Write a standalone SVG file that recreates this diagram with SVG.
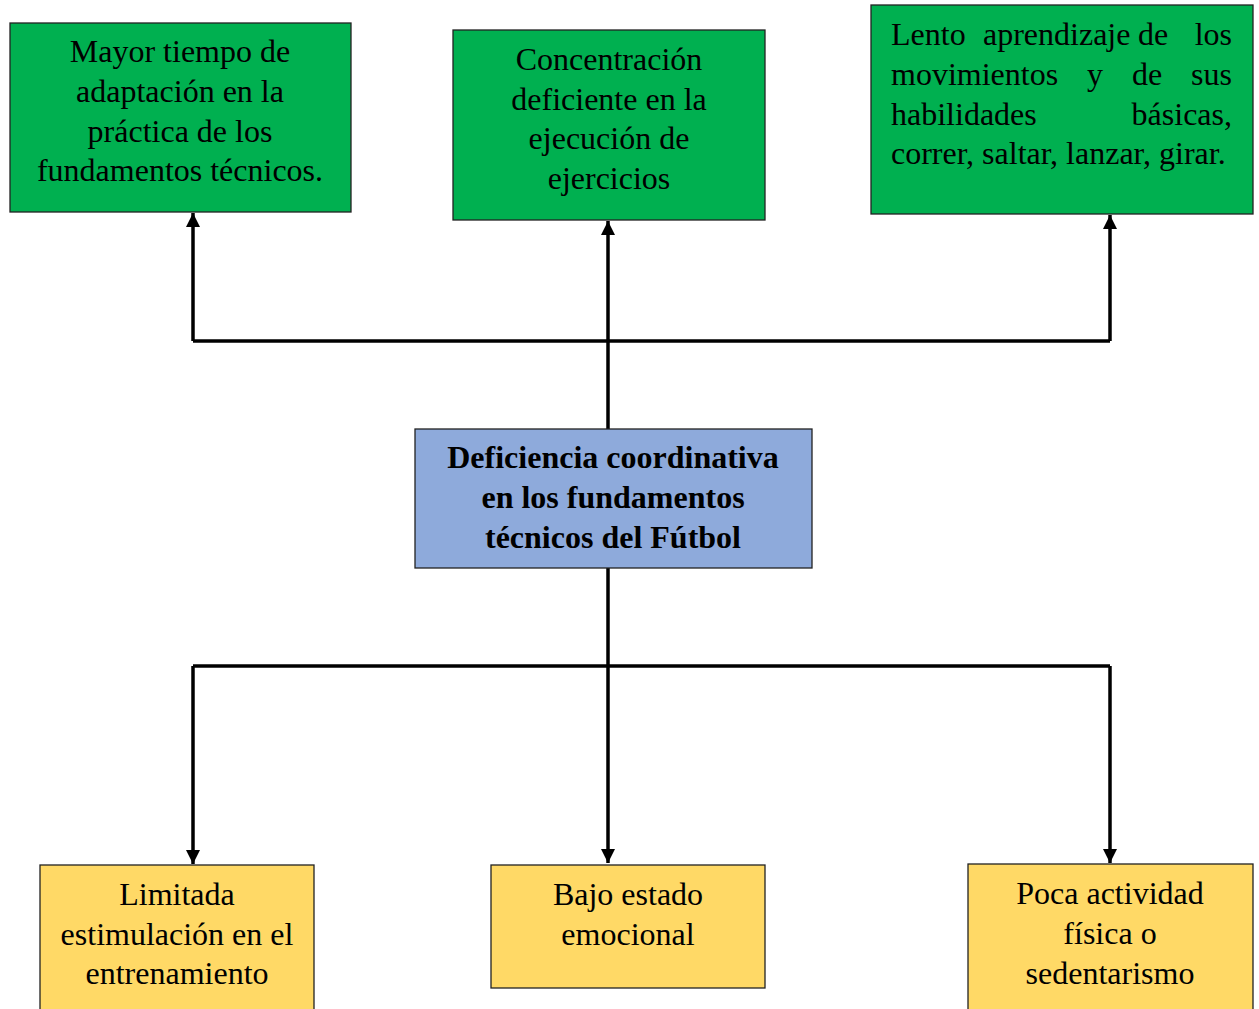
<svg xmlns="http://www.w3.org/2000/svg" width="1259" height="1009" viewBox="0 0 1259 1009">
<style>
.box{stroke:#222;stroke-width:1.3}
.g{fill:#00B050}.b{fill:#8EAADB}.y{fill:#FFD966}
text{font-family:"Liberation Serif","Times New Roman",serif;font-size:32px;fill:#000}
.c{text-anchor:middle}
.e{text-anchor:end}
.bold{font-weight:bold}
.ln{stroke:#000;stroke-width:3.5;fill:none}
</style>
<defs>
<marker id="ah" viewBox="0 0 10 10" refX="10" refY="5" markerWidth="4" markerHeight="4" orient="auto" markerUnits="strokeWidth">
<path d="M0,0 L10,5 L0,10 z" fill="#000"/>
</marker>
</defs>
<rect width="1259" height="1009" fill="#fff"/>
<g id="connectors">
<path class="ln" d="M193,341 H1110"/>
<path class="ln" d="M193,341 V213" marker-end="url(#ah)"/>
<path class="ln" d="M608,429 V221" marker-end="url(#ah)"/>
<path class="ln" d="M1110,341 V215" marker-end="url(#ah)"/>
<path class="ln" d="M608,568 V863" marker-end="url(#ah)"/>
<path class="ln" d="M193,666 H1110"/>
<path class="ln" d="M193,666 V864" marker-end="url(#ah)"/>
<path class="ln" d="M1110,666 V863" marker-end="url(#ah)"/>
</g>
<g id="n1">
<rect class="box g" x="10" y="23" width="341" height="189"/>
<text class="c" x="180" y="62">Mayor tiempo de</text>
<text class="c" x="180" y="102">adaptación en la</text>
<text class="c" x="180" y="142">práctica de los</text>
<text class="c" x="180" y="181">fundamentos técnicos.</text>
</g>
<g id="n2">
<rect class="box g" x="453" y="30" width="312" height="190"/>
<text class="c" x="609" y="70">Concentración</text>
<text class="c" x="609" y="110">deficiente en la</text>
<text class="c" x="609" y="149">ejecución de</text>
<text class="c" x="609" y="189">ejercicios</text>
</g>
<g id="n3">
<rect class="box g" x="871" y="5" width="382" height="209"/>
<text x="891" y="45">Lento</text>
<text x="983" y="45">aprendizaje</text>
<text x="1138" y="45">de</text>
<text class="e" x="1232" y="45">los</text>
<text x="891" y="85">movimientos</text>
<text x="1087" y="85">y</text>
<text x="1132" y="85">de</text>
<text class="e" x="1232" y="85">sus</text>
<text x="891" y="125">habilidades</text>
<text class="e" x="1232" y="125">básicas,</text>
<text x="891" y="164">correr, saltar, lanzar, girar.</text>
</g>
<g id="n4">
<rect class="box b" x="415" y="429" width="397" height="139"/>
<text class="c bold" x="613" y="468">Deficiencia coordinativa</text>
<text class="c bold" x="613" y="508">en los fundamentos</text>
<text class="c bold" x="613" y="548">técnicos del Fútbol</text>
</g>
<g id="n5">
<rect class="box y" x="40" y="865" width="274" height="150"/>
<text class="c" x="177" y="905">Limitada</text>
<text class="c" x="177" y="945">estimulación en el</text>
<text class="c" x="177" y="984">entrenamiento</text>
</g>
<g id="n6">
<rect class="box y" x="491" y="865" width="274" height="123"/>
<text class="c" x="628" y="905">Bajo estado</text>
<text class="c" x="628" y="945">emocional</text>
</g>
<g id="n7">
<rect class="box y" x="968" y="864" width="285" height="150"/>
<text class="c" x="1110" y="904">Poca actividad</text>
<text class="c" x="1110" y="944">física o</text>
<text class="c" x="1110" y="984">sedentarismo</text>
</g>
</svg>
